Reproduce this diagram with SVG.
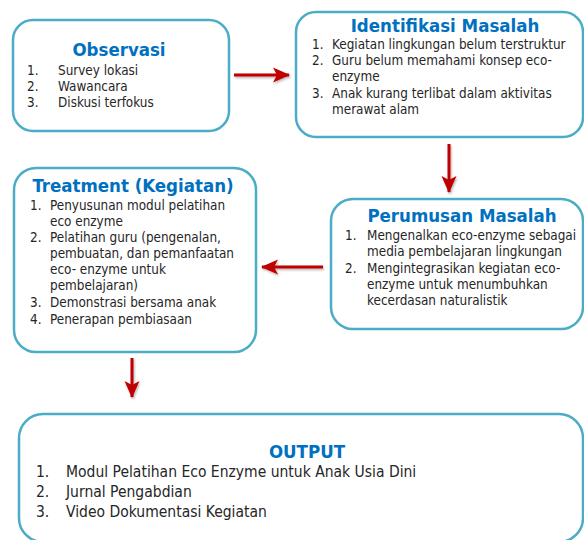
<svg xmlns="http://www.w3.org/2000/svg" width="584" height="540" viewBox="0 0 584 540">
<defs>
<style>
.box{fill:#fff;stroke:#4BACC6;stroke-width:2.5}
.t{font-family:"DejaVu Sans Condensed","DejaVu Sans",sans-serif;font-weight:bold;font-size:18.5px;fill:#0070C0;text-anchor:middle}
.b{font-family:"DejaVu Sans Condensed","DejaVu Sans",sans-serif;font-size:13.4px;fill:#262626}
.o{font-family:"DejaVu Sans Condensed","DejaVu Sans",sans-serif;font-size:15.5px;fill:#262626}
.arr{stroke:#C00000;stroke-width:3;fill:none;marker-end:url(#ah)}
</style>
<filter id="sh" filterUnits="userSpaceOnUse" x="0" y="0" width="584" height="540">
<feDropShadow dx="1" dy="1.5" stdDeviation="1" flood-color="#000" flood-opacity="0.3"/>
</filter>
<marker id="ah" markerUnits="userSpaceOnUse" markerWidth="18" markerHeight="16" refX="16" refY="8" orient="auto">
<path d="M0,0.5 L17,8 L0,15.5 L4,8 Z" fill="#C00000"/>
</marker>
</defs>
<g id="connectors" filter="url(#sh)">
<line class="arr" x1="234" y1="75" x2="289" y2="75"/>
<line class="arr" x1="449" y1="144" x2="449" y2="192"/>
<line class="arr" x1="323" y1="267" x2="262" y2="267"/>
<line class="arr" x1="132" y1="358" x2="132" y2="397"/>
</g>
<g id="observasi">
<rect class="box" x="13" y="20" width="216" height="111" rx="20"/>
<text class="t" x="119" y="56">Observasi</text>
<text class="b" x="27" y="75">1.</text><text class="b" x="58" y="75">Survey lokasi</text>
<text class="b" x="27" y="91">2.</text><text class="b" x="58" y="91">Wawancara</text>
<text class="b" x="27" y="107">3.</text><text class="b" x="58" y="107">Diskusi terfokus</text>
</g>
<g id="identifikasi">
<rect class="box" x="296" y="12" width="287" height="125" rx="20"/>
<text class="t" x="445" y="32">Identifikasi Masalah</text>
<text class="b" x="312" y="49">1.</text><text class="b" x="332" y="49">Kegiatan lingkungan belum terstruktur</text>
<text class="b" x="312" y="65">2.</text><text class="b" x="332" y="65">Guru belum memahami konsep eco-</text>
<text class="b" x="332" y="81">enzyme</text>
<text class="b" x="312" y="98">3.</text><text class="b" x="332" y="98">Anak kurang terlibat dalam aktivitas</text>
<text class="b" x="332" y="114">merawat alam</text>
</g>
<g id="treatment">
<rect class="box" x="14" y="168" width="242" height="184" rx="22"/>
<text class="t" x="133" y="192">Treatment (Kegiatan)</text>
<text class="b" x="30" y="210">1.</text><text class="b" x="50" y="210">Penyusunan modul pelatihan</text>
<text class="b" x="50" y="226">eco enzyme</text>
<text class="b" x="30" y="242">2.</text><text class="b" x="50" y="242">Pelatihan guru (pengenalan,</text>
<text class="b" x="50" y="258">pembuatan, dan pemanfaatan</text>
<text class="b" x="50" y="274">eco- enzyme untuk</text>
<text class="b" x="50" y="290">pembelajaran)</text>
<text class="b" x="30" y="307">3.</text><text class="b" x="50" y="307">Demonstrasi bersama anak</text>
<text class="b" x="30" y="324">4.</text><text class="b" x="50" y="324">Penerapan pembiasaan</text>
</g>
<g id="perumusan">
<rect class="box" x="331" y="199" width="252" height="130" rx="22"/>
<text class="t" x="462" y="222">Perumusan Masalah</text>
<text class="b" x="345" y="240">1.</text><text class="b" x="367" y="240">Mengenalkan eco-enzyme sebagai</text>
<text class="b" x="367" y="256">media pembelajaran lingkungan</text>
<text class="b" x="345" y="273">2.</text><text class="b" x="367" y="273">Mengintegrasikan kegiatan eco-</text>
<text class="b" x="367" y="289">enzyme untuk menumbuhkan</text>
<text class="b" x="367" y="305">kecerdasan naturalistik</text>
</g>
<g id="output">
<rect class="box" x="19" y="414" width="564" height="128" rx="24"/>
<text class="t" x="307" y="458">OUTPUT</text>
<text class="o" x="36" y="477">1.</text><text class="o" x="66" y="477">Modul Pelatihan Eco Enzyme untuk Anak Usia Dini</text>
<text class="o" x="36" y="497">2.</text><text class="o" x="66" y="497">Jurnal Pengabdian</text>
<text class="o" x="36" y="517">3.</text><text class="o" x="66" y="517">Video Dokumentasi Kegiatan</text>
</g>
</svg>
